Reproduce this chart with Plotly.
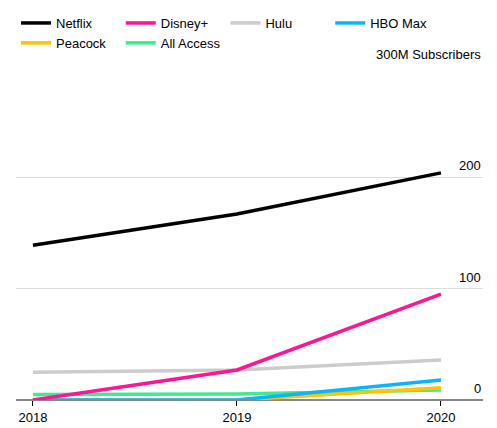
import plotly.graph_objects as go

years = [2018, 2019, 2020]
netflix = [139, 167, 204]
disney = [0, 27, 95]
hulu = [25, 27, 36]
hbo_max = [0, 0, 18]
peacock = [0, 0, 11]
all_access = [5, 5.5, 9]

y_ticks = [0, 100, 200, 300]
y_labels = ['0', '100', '200', '300M Subscribers']

series = [
    ('Netflix', netflix, '#000000'),
    ('Disney+', disney, '#ff1493'),
    ('Hulu', hulu, '#cccccc'),
    ('HBO Max', hbo_max, '#0bb4ff'),
    ('Peacock', peacock, '#ffc400'),
    ('All Access', all_access, '#40ea8f'),
]

fig = go.Figure()
# draw Netflix last so it stays on top? keep legend order, lines are separate anyway
for name, vals, color in reversed(series):
    fig.add_trace(go.Scatter(x=years, y=vals, name=name, mode='lines',
                             line=dict(color=color, width=3.5)))

for v, lab in zip(y_ticks, y_labels):
    fig.add_annotation(x=1, xref='paper', y=v, yref='y', text=lab,
                       showarrow=False, xanchor='right', yanchor='bottom',
                       yshift=2, font=dict(size=13, color='#000'))

fig.update_layout(
    width=497, height=428,
    margin=dict(l=8, r=22, t=48, b=36),
    plot_bgcolor='white', paper_bgcolor='white',
    font=dict(family='Liberation Sans, Arial, sans-serif', size=13, color='#000'),
    showlegend=True,
    legend=dict(orientation='h', x=0, y=1, yref='container', xanchor='left',
                yanchor='top', traceorder='reversed', itemwidth=30,
                font=dict(size=13), entrywidth=0, tracegroupgap=0),
    xaxis=dict(range=[2017.917, 2020.206], tickvals=years, ticks='outside',
               ticklen=5, tickcolor='#000', showgrid=False, zeroline=False,
               showline=False),
    yaxis=dict(range=[0, 300], tickvals=y_ticks, showticklabels=False,
               showgrid=True, gridcolor='#dddddd', zeroline=True,
               zerolinecolor='#888888', zerolinewidth=2),
)

fig.write_html('out.html')
